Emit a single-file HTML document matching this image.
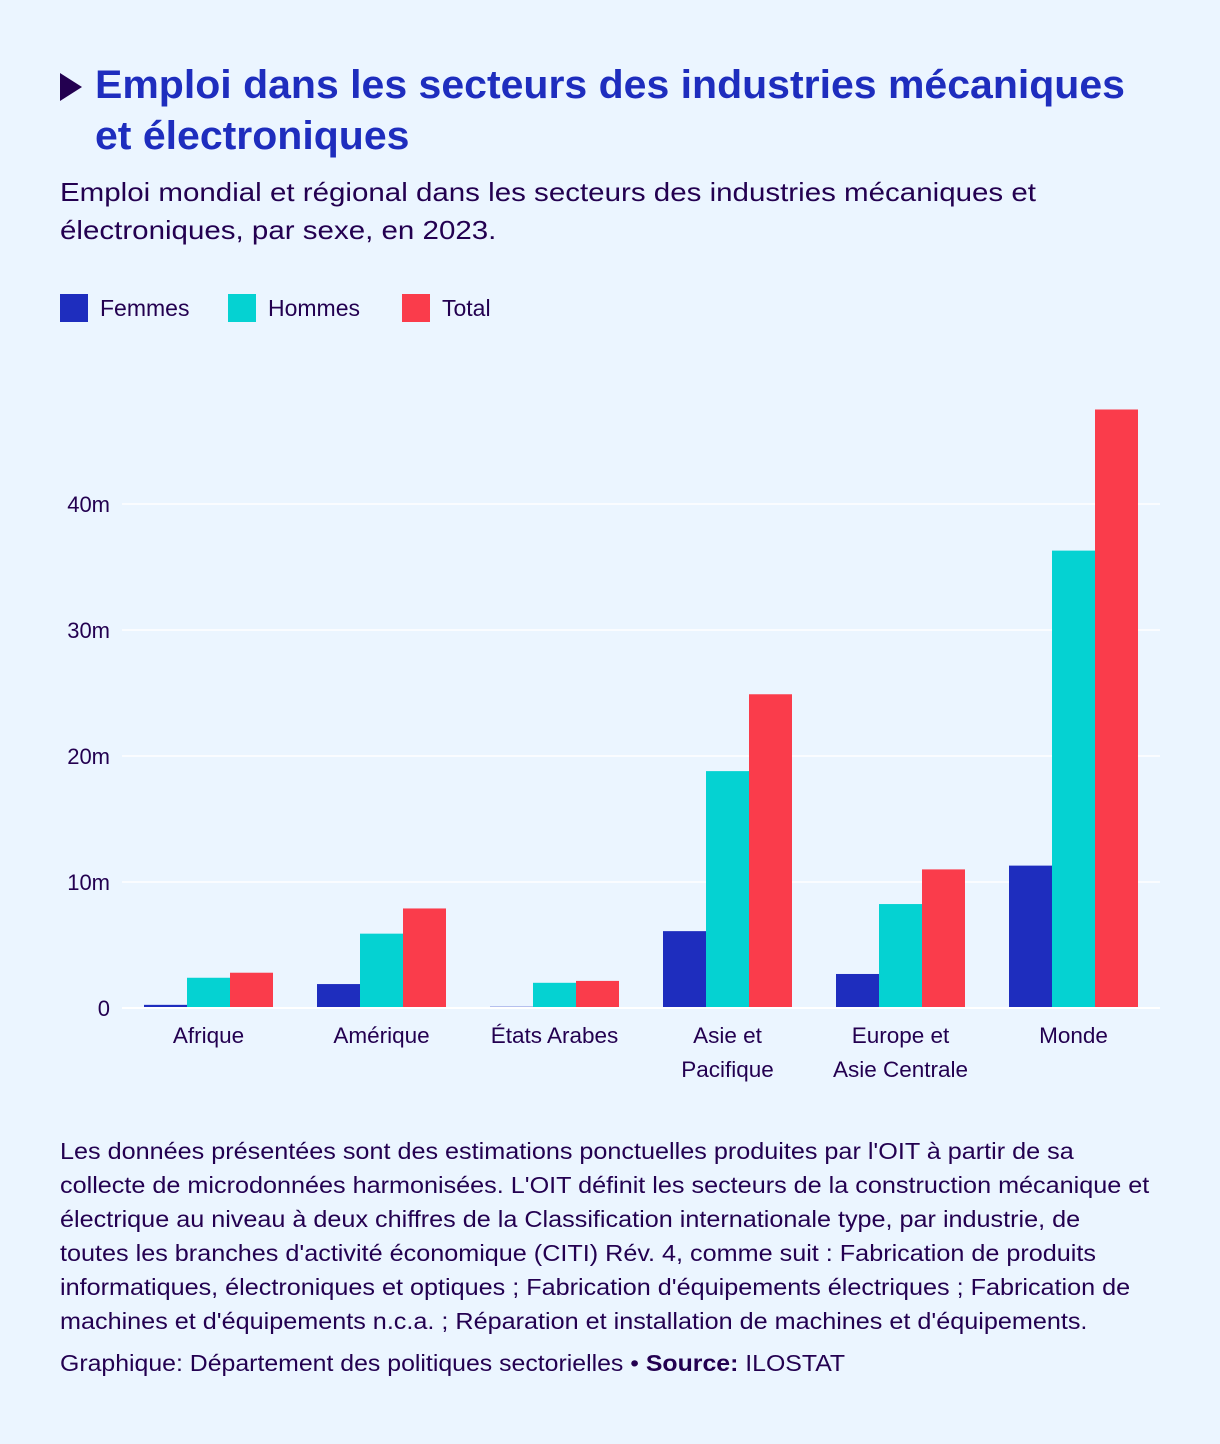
<!DOCTYPE html>
<html><head><meta charset="utf-8"><style>
body{margin:0;width:1220px;height:1444px;background:#ebf5ff;font-family:"Liberation Sans","DejaVu Sans",sans-serif;color:#230050;position:relative;overflow:hidden}
.a{position:absolute;white-space:nowrap;transform-origin:0 0}
#title{left:95px;top:60px;font-size:40px;font-weight:bold;color:#1e2dbe;line-height:51px;transform:scaleX(1.025)}
#sub{left:60px;top:173px;font-size:26px;line-height:38px;transform:scaleX(1.135)}
#note{left:60px;top:1134px;font-size:23px;line-height:34px;transform:scaleX(1.095)}
#credit{left:60px;top:1350px;font-size:23px;transform:scaleX(1.08)}
.leg{position:absolute;top:294px;font-size:23px;line-height:28px}
.leg span{display:inline-block;width:28px;height:28px;vertical-align:top;margin-right:12px}
</style></head><body>
<svg class="a" style="left:60px;top:73px" width="24" height="28"><polygon points="0,0 22,14 0,28" fill="#230050"/></svg>
<div id="title" class="a">Emploi dans les secteurs des industries mécaniques<br>et électroniques</div>
<div id="sub" class="a">Emploi mondial et régional dans les secteurs des industries mécaniques et<br>électroniques, par sexe, en 2023.</div>
<div class="leg" style="left:60px"><span style="background:#1e2dbe"></span>Femmes</div>
<div class="leg" style="left:228px"><span style="background:#05d2d2"></span>Hommes</div>
<div class="leg" style="left:402px"><span style="background:#fa3c4b"></span>Total</div>
<svg id="chart" class="a" style="left:0;top:0" width="1220" height="1110"></svg>
<div id="note" class="a">Les données présentées sont des estimations ponctuelles produites par l'OIT à partir de sa<br>collecte de microdonnées harmonisées. L'OIT définit les secteurs de la construction mécanique et<br>électrique au niveau à deux chiffres de la Classification internationale type, par industrie, de<br>toutes les branches d'activité économique (CITI) Rév. 4, comme suit : Fabrication de produits<br>informatiques, électroniques et optiques ; Fabrication d'équipements électriques ; Fabrication de<br>machines et d'équipements n.c.a. ; Réparation et installation de machines et d'équipements.</div>
<div id="credit" class="a">Graphique: Département des politiques sectorielles • <b>Source:</b> ILOSTAT</div>
<script>
const categories=[["Afrique"],["Amérique"],["États Arabes"],["Asie et","Pacifique"],["Europe et","Asie Centrale"],["Monde"]];
const femmes=[0.25,1.9,0.1,6.1,2.7,11.3];
const hommes=[2.4,5.9,2.0,18.8,8.25,36.3];
const total=[2.8,7.9,2.15,24.9,11.0,47.5];
const ticks=[0,10,20,30,40];
const tickLabels=["0","10m","20m","30m","40m"];
const NS="http://www.w3.org/2000/svg";
const svg=document.getElementById('chart');
const x0=122,x1=1160,y0=1008,pxPerM=12.6;
const y=v=>y0-v*pxPerM;
const gw=(x1-x0)/categories.length,bw=43;
function mk(t,a){const e=document.createElementNS(NS,t);for(const k in a)e.setAttribute(k,a[k]);svg.appendChild(e);return e;}
ticks.forEach((t,i)=>{
  if(t>0){const l=mk('line',{x1:x0,x2:x1,y1:y(t),y2:y(t),stroke:'#ffffff','stroke-width':1.5});
  
  }
  const tx=mk('text',{x:110,y:y(t)+8,'text-anchor':'end','font-size':22,fill:'#230050'});
  tx.textContent=tickLabels[i];
  
  
});
const series=[[femmes,'#1e2dbe','femmes'],[hommes,'#05d2d2','hommes'],[total,'#fa3c4b','total']];
categories.forEach((c,i)=>{
  const cx=x0+gw*(i+0.5);
  series.forEach((s,j)=>{
    const v=s[0][i];
    const r=mk('rect',{x:cx-1.5*bw+j*bw,y:y(v),width:bw,height:v*pxPerM,fill:s[1]});
    
    
  });
  c.forEach((ln,k)=>{
    const t=mk('text',{x:cx,y:1043+k*34,'text-anchor':'middle','font-size':22.5,fill:'#230050'});
    t.textContent=ln;
    
    
  });
});
const ax=mk('line',{x1:x0,x2:x1,y1:y0,y2:y0,stroke:'#ffffff','stroke-width':2});


</script>
</body></html>
